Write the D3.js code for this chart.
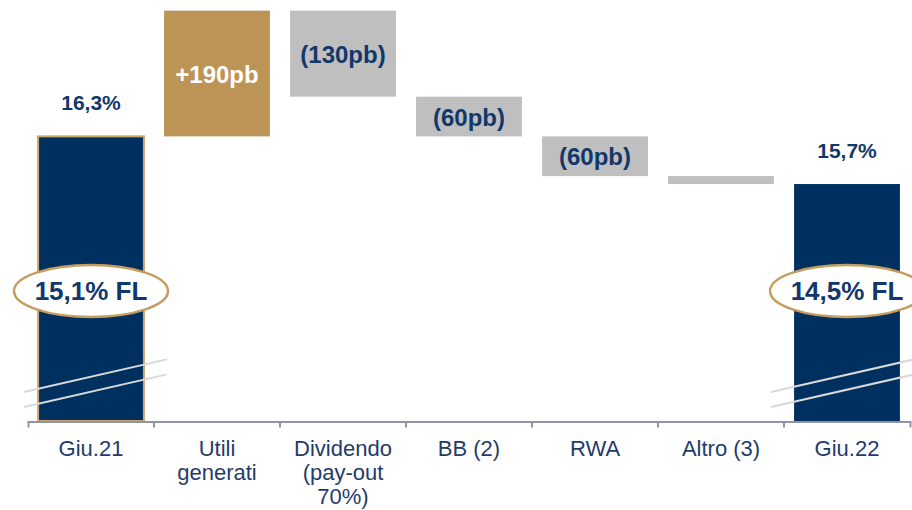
<!DOCTYPE html>
<html>
<head>
<meta charset="utf-8">
<script src="https://d3js.org/d3.v7.min.js"></script>
<style>
  body { margin: 0; background: #fff; }
  svg { display: block; font-family: "Liberation Sans", Arial, sans-serif; }
  .tick-label { font-size: 22px; fill: #1f3c6b; }
  .val { font-weight: bold; font-size: 24px; fill: #12386b; }
</style>
</head>
<body>
<div id="chart"></div>
<script>
// data (bp / %)
var categories = ["Giu.21", "Utili generati", "Dividendo (pay-out 70%)", "BB (2)", "RWA", "Altro (3)", "Giu.22"];
var tickLines = [["Giu.21"], ["Utili", "generati"], ["Dividendo", "(pay-out", "70%)"], ["BB (2)"], ["RWA"], ["Altro (3)"], ["Giu.22"]];
var startValue = 1630;             // 16,3% in pb
var deltas = [190, -130, -60, -60, -12];
var deltaLabels = ["+190pb", "(130pb)", "(60pb)", "(60pb)", ""];
var totalLabels = ["16,3%", "15,7%"];
var flLabels = ["15,1% FL", "14,5% FL"];

var width = 912, height = 510;
var navy = "#00305f", gold = "#bc9455", grey = "#bfbfbf";

var svg = d3.select("#chart").append("svg")
  .attr("width", width)
  .attr("height", height);

var x = d3.scaleBand()
  .domain(categories)
  .range([28, 910])
  .paddingInner(0.16)
  .paddingOuter(0.08);

var y = d3.scaleLinear()
  .domain([1200, 1830])
  .range([421, 4]);

// build waterfall rows
var rows = [];
var run = startValue;
rows.push({cat: categories[0], y0: y.domain()[0], y1: startValue, type: "total", label: totalLabels[0]});
deltas.forEach(function(d, i) {
  var next = run + d;
  rows.push({cat: categories[i + 1], y0: Math.min(run, next), y1: Math.max(run, next), type: d > 0 ? "up" : "down", label: deltaLabels[i]});
  run = next;
});
rows.push({cat: categories[6], y0: y.domain()[0], y1: run, type: "total", label: totalLabels[1]});

function fillFor(r) {
  if (r.type == "total") return navy;
  if (r.type == "up") return gold;
  return grey;
}

svg.append("g").selectAll("rect")
  .data(rows).enter().append("rect")
  .attr("x", function(d) { return x(d.cat); })
  .attr("width", x.bandwidth())
  .attr("y", function(d) { return y(d.y1); })
  .attr("height", function(d) { return y(d.y0) - y(d.y1); })
  .attr("fill", fillFor)
  .attr("stroke", function(d, i) { return i == 0 ? "#c9a56c" : "none"; })
  .attr("stroke-width", 2);

// value labels
svg.append("g").selectAll("text")
  .data(rows).enter().append("text")
  .attr("class", "val")
  .attr("text-anchor", "middle")
  .attr("x", function(d) { return x(d.cat) + x.bandwidth() / 2; })
  .attr("y", function(d) {
    if (d.type == "total") return y(d.y1) - 26;
    return (y(d.y0) + y(d.y1)) / 2 + 9;
  })
  .style("font-size", function(d) { return d.type == "total" ? "21px" : "24px"; })
  .style("fill", function(d) { return d.type == "up" ? "#fff" : "#12386b"; })
  .text(function(d) { return d.label; });

// axis
var axisG = svg.append("g")
  .attr("transform", "translate(0," + (y.range()[0] + 0.5) + ")")
  .call(d3.axisBottom(x).tickSize(0).tickSizeOuter(6).tickFormat(""));
axisG.select(".domain").attr("stroke", "#8e95a8").attr("stroke-width", 2);

var bounds = categories.slice(1).map(function(c) { return x(c) - x.step() * x.paddingInner() / 2; });
axisG.selectAll(".bound").data(bounds).enter().append("line")
  .attr("x1", function(d) { return d; }).attr("x2", function(d) { return d; })
  .attr("y1", 0).attr("y2", 6)
  .attr("stroke", "#8e95a8").attr("stroke-width", 2);

var labelG = svg.append("g").selectAll("text")
  .data(categories).enter().append("text")
  .attr("class", "tick-label")
  .attr("text-anchor", "middle")
  .attr("x", function(d) { return x(d) + x.bandwidth() / 2; })
  .attr("y", 456);
labelG.each(function(d, i) {
  var t = d3.select(this);
  tickLines[i].forEach(function(line, j) {
    t.append("tspan")
      .attr("x", x(d) + x.bandwidth() / 2)
      .attr("dy", j == 0 ? 0 : 24)
      .text(line);
  });
});

// axis break marks
var breakSpan = [[-67, 76], [-76, 70]];
[categories[0], categories[6]].forEach(function(c, i) {
  var cx = x(c) + x.bandwidth() / 2;
  var a = breakSpan[i][0], b = breakSpan[i][1];
  [0, 15].forEach(function(off) {
    svg.append("line")
      .attr("x1", cx + a).attr("y1", 392 + off)
      .attr("x2", cx + b).attr("y2", 392 + off - (b - a) * 0.228)
      .attr("stroke", "#d9d9d9").attr("stroke-width", 2);
  });
});

// fully loaded ellipses
[categories[0], categories[6]].forEach(function(c, i) {
  var cx = x(c) + x.bandwidth() / 2;
  svg.append("ellipse")
    .attr("cx", cx).attr("cy", 291)
    .attr("rx", 77).attr("ry", 26)
    .attr("fill", "#fff")
    .attr("stroke", "#c59d5f").attr("stroke-width", 2.5);
  svg.append("text")
    .attr("class", "val")
    .attr("text-anchor", "middle")
    .attr("x", cx).attr("y", 300)
    .style("font-size", "26px")
    .text(flLabels[i]);
});
</script>
</body>
</html>
